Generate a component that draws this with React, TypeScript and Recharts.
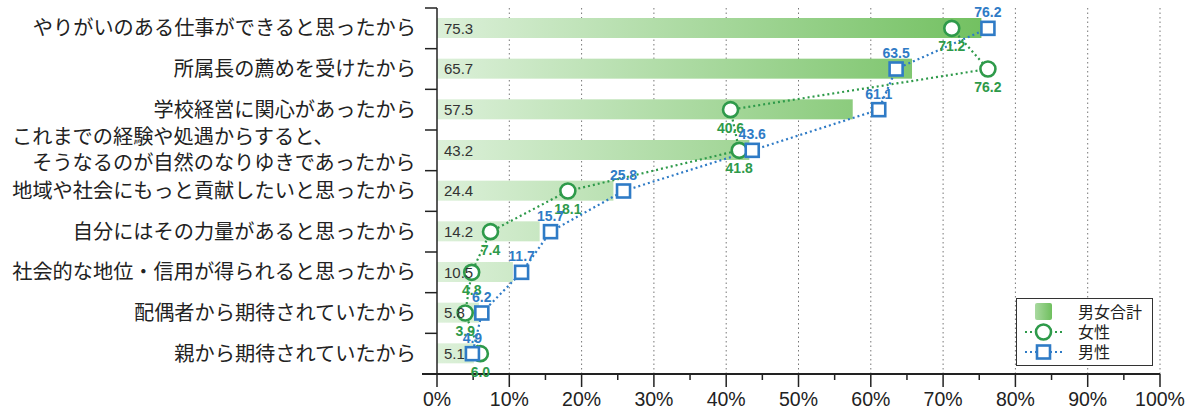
import React from 'react';
import {
  ComposedChart,
  Bar,
  Line,
  XAxis,
  YAxis,
  CartesianGrid,
  Legend,
  LabelList,
} from 'recharts';

// ---------------- data ----------------
const categories: string[] = [
  'やりがいのある仕事ができると思ったから',
  '所属長の薦めを受けたから',
  '学校経営に関心があったから',
  'これまでの経験や処遇からすると、\n　そうなるのが自然のなりゆきであったから',
  '地域や社会にもっと貢献したいと思ったから',
  '自分にはその力量があると思ったから',
  '社会的な地位・信用が得られると思ったから',
  '配偶者から期待されていたから',
  '親から期待されていたから',
];
const totalValues: number[] = [75.3, 65.7, 57.5, 43.2, 24.4, 14.2, 10.5, 5.8, 5.1];
const femaleValues: number[] = [71.2, 76.2, 40.6, 41.8, 18.1, 7.4, 4.8, 3.9, 6.0];
const maleValues: number[] = [76.2, 63.5, 61.1, 43.6, 25.8, 15.7, 11.7, 6.2, 4.9];
const xTicks: number[] = [0, 5, 10, 15, 20, 25, 30, 35, 40, 45, 50, 55, 60, 65, 70, 75, 80, 85, 90, 95, 100];
const gridTicks: number[] = [10, 20, 30, 40, 50, 60, 70, 80, 90, 100];
const seriesNames = { total: '男女合計', female: '女性', male: '男性' };

const data = categories.map((name, i) => ({
  name,
  total: totalValues[i],
  female: femaleValues[i],
  male: maleValues[i],
}));

// ---------------- layout / style ----------------
const W = 1193;
const H = 412;
const MARGIN = { top: 8, right: 33, bottom: 0, left: 0 };
const Y_AXIS_W = 437;
const X_AXIS_H = 38;
const PLOT_H = H - MARGIN.top - MARGIN.bottom - X_AXIS_H;
const BAND = PLOT_H / categories.length;

const GREEN = '#2e9a4a';
const BLUE = '#2f7bc6';
const AXIS = '#222';
const LATIN = '"Liberation Sans", Arial, Helvetica, sans-serif';
const CJK = '"Noto Sans CJK JP", "Noto Sans", sans-serif';
const CAT_FONT = 20.2;

const YTick = (props: any) => {
  const { x, y, payload, index } = props;
  const lines = String(payload.value).split('\n');
  const endX = x - 21;
  const half = BAND / 2;
  const maxLen = Math.max(...lines.map((l) => l.length));
  return (
    <g>
      <line x1={x - 12} x2={x} y1={y - half} y2={y - half} stroke={AXIS} strokeWidth={1.5} />
      {index === categories.length - 1 && (
        <line x1={x - 12} x2={x} y1={y + half} y2={y + half} stroke={AXIS} strokeWidth={1.5} />
      )}
      {lines.length === 1 ? (
        <text x={endX} y={y + 7} textAnchor="end" fontSize={CAT_FONT} fill="#222" fontFamily={CJK}>
          {lines[0]}
        </text>
      ) : (
        lines.map((l, i) => (
          <text
            key={i}
            x={endX - maxLen * CAT_FONT}
            y={y + 7 + (i - (lines.length - 1) / 2) * 26}
            textAnchor="start"
            fontSize={CAT_FONT}
            fill="#222"
            fontFamily={CJK}
          >
            {l}
          </text>
        ))
      )}
    </g>
  );
};

const XTick = (props: any) => {
  const { x, y, payload } = props;
  const v = payload.value as number;
  const major = v % 10 === 0;
  return (
    <g>
      {v === 0 && <line x1={x - 15} x2={x} y1={y} y2={y} stroke={AXIS} strokeWidth={2} />}
      <line x1={x} x2={x} y1={y} y2={y + (major ? 13 : 6)} stroke={AXIS} strokeWidth={1.5} />
      {major && (
        <text x={x} y={y + 32} textAnchor="middle" fontSize={19.5} fill="#222" fontFamily={LATIN}>
          {`${v}%`}
        </text>
      )}
    </g>
  );
};

const GradientBar = (props: any) => {
  const { x, y, width, height, background, index } = props;
  if (!width || width <= 0) return <g />;
  const bx = background && typeof background.x === 'number' ? background.x : x;
  const bw = background && typeof background.width === 'number' ? background.width : width;
  const id = `barGrad${index}`;
  return (
    <g>
      <defs>
        <linearGradient id={id} gradientUnits="userSpaceOnUse" x1={bx} y1={0} x2={bx + bw * 0.76} y2={0}>
          <stop offset="0" stopColor="#dcf0d9" />
          <stop offset="1" stopColor="#72c060" />
        </linearGradient>
      </defs>
      <rect x={x} y={y} width={width} height={height} fill={`url(#${id})`} />
    </g>
  );
};

const BarValueLabel = (props: any) => {
  const { x, y, height, value } = props;
  return (
    <text x={x + 7} y={y + height / 2 + 5.5} fontSize={15} fill="#333" fontFamily={LATIN}>
      {Number(value).toFixed(1)}
    </text>
  );
};

const FemaleDot = (props: any) => {
  const { cx, cy, index } = props;
  return <circle key={`f${index}`} cx={cx} cy={cy} r={7.5} fill="#fff" stroke={GREEN} strokeWidth={2.6} />;
};

const MaleDot = (props: any) => {
  const { cx, cy, index } = props;
  return (
    <rect key={`m${index}`} x={cx - 6.5} y={cy - 6.5} width={13} height={13} fill="#fff" stroke={BLUE} strokeWidth={2.6} />
  );
};

const FemaleLabel = (props: any) => {
  const { x, y, value } = props;
  return (
    <text x={x} y={y + 23} textAnchor="middle" fontSize={14} fontWeight="bold" fill={GREEN} fontFamily={LATIN}>
      {Number(value).toFixed(1)}
    </text>
  );
};

const MaleLabel = (props: any) => {
  const { x, y, value } = props;
  return (
    <text x={x} y={y - 11} textAnchor="middle" fontSize={14} fontWeight="bold" fill={BLUE} fontFamily={LATIN}>
      {Number(value).toFixed(1)}
    </text>
  );
};

const LegendBox = () => (
  <div
    style={{
      width: 137,
      height: 68,
      border: '1px solid #333',
      background: '#fff',
      boxSizing: 'border-box',
    }}
  >
    <svg width={135} height={66} style={{ display: 'block' }}>
      <defs>
        <linearGradient id="legGrad" x1="0" y1="0" x2="1" y2="0">
          <stop offset="0" stopColor="#a9d9a0" />
          <stop offset="1" stopColor="#6fbf5e" />
        </linearGradient>
      </defs>
      <rect x={18} y={4} width={17} height={17} rx={2} fill="url(#legGrad)" />
      <text x={61} y={18.5} fontSize={16} fill="#222" fontFamily={CJK}>{seriesNames.total}</text>

      <line x1={8} x2={45} y1={33} y2={33} stroke={GREEN} strokeWidth={2.2} strokeDasharray="2 3" />
      <circle cx={26.5} cy={33} r={7.5} fill="#fff" stroke={GREEN} strokeWidth={2.6} />
      <text x={61} y={39} fontSize={16} fill="#222" fontFamily={CJK}>{seriesNames.female}</text>

      <line x1={8} x2={45} y1={53} y2={53} stroke={BLUE} strokeWidth={2.2} strokeDasharray="2 3" />
      <rect x={20} y={46.5} width={13} height={13} fill="#fff" stroke={BLUE} strokeWidth={2.6} />
      <text x={61} y={59} fontSize={16} fill="#222" fontFamily={CJK}>{seriesNames.male}</text>
    </svg>
  </div>
);

const gridGenerator = (args: any) => {
  const xAxis = args && args.xAxis;
  if (xAxis && typeof xAxis.scale === 'function') {
    return gridTicks.map((v) => xAxis.scale(v));
  }
  const off = args && args.offset;
  if (off) return gridTicks.map((v) => off.left + (off.width * v) / 100);
  return [];
};

export default function App() {
  return (
    <div style={{ position: 'absolute', left: 0, top: 0, width: W, height: H, background: '#fff' }}>
      <ComposedChart width={W} height={H} data={data} layout="vertical" margin={MARGIN}>
        <CartesianGrid
          horizontal={false}
          vertical
          verticalCoordinatesGenerator={gridGenerator}
          stroke="#777"
          strokeDasharray="1.5 3"
          strokeWidth={1}
        />
        <XAxis
          type="number"
          domain={[0, 100]}
          ticks={xTicks}
          interval={0}
          height={X_AXIS_H}
          tickLine={false}
          tickSize={0}
          tickMargin={0}
          axisLine={{ stroke: AXIS, strokeWidth: 2 }}
          tick={<XTick />}
        />
        <YAxis
          type="category"
          dataKey="name"
          width={Y_AXIS_W}
          interval={0}
          tickLine={false}
          tickSize={0}
          tickMargin={0}
          axisLine={{ stroke: AXIS, strokeWidth: 1.5 }}
          tick={<YTick />}
        />
        <Legend
          layout="horizontal"
          verticalAlign="middle"
          align="center"
          content={() => <LegendBox />}
          wrapperStyle={{ position: 'absolute', left: 1016, top: 298, width: 137, height: 68 }}
        />
        <Bar dataKey="total" name={seriesNames.total} barSize={20} shape={GradientBar} isAnimationActive={false}>
          <LabelList dataKey="total" content={BarValueLabel} />
        </Bar>
        <Line
          dataKey="female"
          name={seriesNames.female}
          stroke={GREEN}
          strokeWidth={2.2}
          strokeDasharray="2 3"
          dot={FemaleDot}
          activeDot={false}
          isAnimationActive={false}
        >
          <LabelList dataKey="female" content={FemaleLabel} />
        </Line>
        <Line
          dataKey="male"
          name={seriesNames.male}
          stroke={BLUE}
          strokeWidth={2.2}
          strokeDasharray="2 3"
          dot={MaleDot}
          activeDot={false}
          isAnimationActive={false}
        >
          <LabelList dataKey="male" content={MaleLabel} />
        </Line>
      </ComposedChart>
    </div>
  );
}
